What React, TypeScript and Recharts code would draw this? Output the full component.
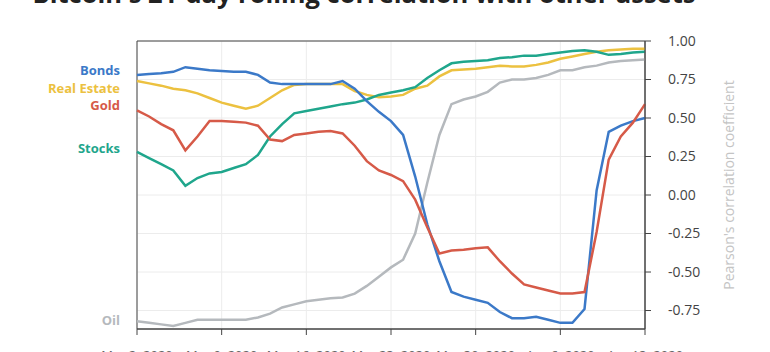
import { CartesianGrid, LabelList, Line, LineChart, ReferenceArea, XAxis, YAxis } from 'recharts';

const days = [
  'Mar 2', 'Mar 3', 'Mar 4', 'Mar 5', 'Mar 6', 'Mar 7', 'Mar 8', 'Mar 9', 'Mar 10', 'Mar 11',
  'Mar 12', 'Mar 13', 'Mar 14', 'Mar 15', 'Mar 16', 'Mar 17', 'Mar 18', 'Mar 19', 'Mar 20', 'Mar 21',
  'Mar 22', 'Mar 23', 'Mar 24', 'Mar 25', 'Mar 26', 'Mar 27', 'Mar 28', 'Mar 29', 'Mar 30', 'Mar 31',
  'Apr 1', 'Apr 2', 'Apr 3', 'Apr 4', 'Apr 5', 'Apr 6', 'Apr 7', 'Apr 8', 'Apr 9', 'Apr 10',
  'Apr 11', 'Apr 12', 'Apr 13'
];

const bonds = [
  0.78, 0.785, 0.79, 0.8, 0.83, 0.82, 0.81, 0.805, 0.8, 0.8,
  0.78, 0.73, 0.72, 0.72, 0.72, 0.72, 0.72, 0.74, 0.69, 0.61,
  0.54, 0.48, 0.39, 0.12, -0.19, -0.43, -0.63, -0.66, -0.68, -0.7,
  -0.76, -0.8, -0.8, -0.79, -0.81, -0.83, -0.83, -0.74, 0.03, 0.41,
  0.45, 0.48, 0.5
];

const realEstate = [
  0.74, 0.725, 0.71, 0.69, 0.68, 0.66, 0.63, 0.6, 0.58, 0.56,
  0.58, 0.63, 0.68, 0.715, 0.72, 0.72, 0.72, 0.72, 0.675, 0.65,
  0.635, 0.64, 0.65, 0.69, 0.71, 0.77, 0.81, 0.815, 0.82, 0.83,
  0.84, 0.835, 0.835, 0.845, 0.86, 0.885, 0.9, 0.915, 0.93, 0.94,
  0.945, 0.95, 0.95
];

const gold = [
  0.55, 0.51, 0.46, 0.42, 0.29, 0.38, 0.48, 0.48, 0.475, 0.47,
  0.45, 0.36, 0.35, 0.39, 0.4, 0.41, 0.415, 0.4, 0.32, 0.22,
  0.16, 0.13, 0.09, -0.03, -0.21, -0.38, -0.36, -0.355, -0.345, -0.34,
  -0.43, -0.51, -0.58, -0.6, -0.62, -0.64, -0.64, -0.63, -0.24, 0.23,
  0.38, 0.47, 0.59
];

const stocks = [
  0.28, 0.24, 0.2, 0.16, 0.06, 0.11, 0.14, 0.15, 0.175, 0.2,
  0.26, 0.38, 0.46, 0.53, 0.545, 0.56, 0.575, 0.59, 0.6, 0.62,
  0.65, 0.665, 0.68, 0.7, 0.76, 0.81, 0.855, 0.865, 0.87, 0.875,
  0.89, 0.895, 0.905, 0.905, 0.915, 0.925, 0.935, 0.94, 0.93, 0.91,
  0.915, 0.925, 0.93
];

const oil = [
  -0.82, -0.83, -0.84, -0.85, -0.83, -0.81, -0.81, -0.81, -0.81, -0.81,
  -0.795, -0.77, -0.73, -0.71, -0.69, -0.68, -0.67, -0.665, -0.64, -0.59,
  -0.53, -0.47, -0.42, -0.25, 0.08, 0.39, 0.59, 0.62, 0.64, 0.67,
  0.73, 0.75, 0.75, 0.76, 0.78, 0.81, 0.81, 0.83, 0.84, 0.86,
  0.87, 0.875, 0.88
];

const yTicks = [1, 0.75, 0.5, 0.25, 0, -0.25, -0.5, -0.75];

const data = days.map((day, i) => ({
  day,
  bonds: bonds[i],
  realEstate: realEstate[i],
  gold: gold[i],
  stocks: stocks[i],
  oil: oil[i]
}));

// drawing order: first is at the bottom
const series = [
  { key: 'oil', name: 'Oil', color: '#b5b9bd', nudge: -1 },
  { key: 'realEstate', name: 'Real Estate', color: '#ecc140', nudge: 7 },
  { key: 'stocks', name: 'Stocks', color: '#1fa68c', nudge: -4 },
  { key: 'bonds', name: 'Bonds', color: '#3b79c8', nudge: -5 },
  { key: 'gold', name: 'Gold', color: '#d65a48', nudge: -5 }
];

const font = '"Open Sans", sans-serif';

export default function App() {
  return (
    <div
      style={{
        position: 'absolute',
        left: 0,
        top: 0,
        width: 770,
        height: 352,
        overflow: 'hidden',
        background: '#fff',
        fontFamily: font
      }}
    >
      <div
        style={{
          position: 'absolute',
          left: 0,
          top: -19,
          width: 728,
          textAlign: 'center',
          fontSize: 25.5,
          lineHeight: '25.5px',
          fontWeight: 700,
          color: '#222',
          whiteSpace: 'nowrap',
          zIndex: 2
        }}
      >
        Bitcoin's 21-day rolling correlation with other assets
      </div>
      <LineChart width={770} height={352} data={data} margin={{ top: 41, right: 0, bottom: 0, left: 137 }}>
        <CartesianGrid stroke="#ececec" />
        <XAxis
          dataKey="day"
          interval={6}
          height={23}
          tickSize={6}
          tickMargin={16}
          tick={{ fontSize: 13, fill: '#666', fontFamily: font }}
          tickFormatter={(d: string) => `${d}, 2020`}
          axisLine={{ stroke: '#444' }}
          tickLine={{ stroke: '#444' }}
        />
        <YAxis
          orientation="right"
          width={125}
          domain={[-0.87, 1]}
          ticks={yTicks}
          allowDataOverflow
          tickSize={6}
          tickMargin={17}
          tick={{ fontSize: 14, fill: '#444', fontFamily: font }}
          tickFormatter={(v: number) => v.toFixed(2)}
          axisLine={{ stroke: '#444' }}
          tickLine={{ stroke: '#444' }}
          label={(props: any) => {
            const vb = props.viewBox;
            const cx = vb.x + 83;
            const cy = vb.y + vb.height / 2;
            return (
              <text
                x={cx}
                y={cy}
                transform={`rotate(-90 ${cx} ${cy})`}
                textAnchor="middle"
                dominantBaseline="central"
                fontSize={14}
                fill="#c4c4c4"
                fontFamily={font}
              >
                Pearson's correlation coefficient
              </text>
            );
          }}
        />
        {series.map((s) => (
          <Line
            key={s.key}
            type="linear"
            dataKey={s.key}
            stroke={s.color}
            strokeWidth={2.5}
            dot={false}
            isAnimationActive={false}
          >
            <LabelList
              dataKey={s.key}
              content={(p: any) =>
                p.index === 0 ? (
                  <text
                    x={p.x - 17}
                    y={p.y + s.nudge}
                    textAnchor="end"
                    dominantBaseline="central"
                    fontSize={13}
                    fontWeight={700}
                    fill={s.color}
                    fontFamily={font}
                  >
                    {s.name}
                  </text>
                ) : null
              }
            />
          </Line>
        ))}
        <ReferenceArea
          x1={days[0]}
          x2={days[days.length - 1]}
          y1={-0.87}
          y2={1}
          fill="none"
          stroke="#444"
          strokeWidth={1}
          ifOverflow="visible"
        />
      </LineChart>
    </div>
  );
}
